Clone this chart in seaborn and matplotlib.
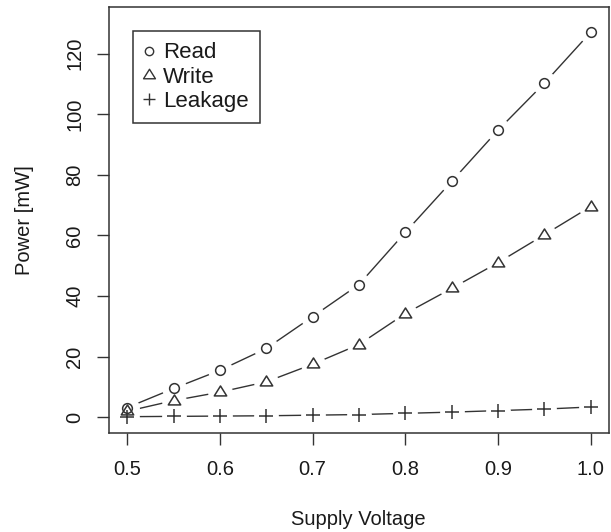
import matplotlib
matplotlib.use("Agg")
import matplotlib.pyplot as plt
from matplotlib.lines import Line2D
from matplotlib.path import Path
import seaborn as sns
import pandas as pd

voltage = [0.50, 0.55, 0.60, 0.65, 0.70, 0.75, 0.80, 0.85, 0.90, 0.95, 1.00]
read_mw = [3.2, 9.5, 15.5, 22.7, 33.2, 43.8, 61.0, 77.8, 94.7, 110.2, 127.0]
write_mw = [2.0, 5.5, 8.3, 11.7, 17.5, 24.0, 34.2, 42.5, 51.0, 60.2, 69.5]
leak_mw = [0.2, 0.3, 0.4, 0.5, 0.7, 0.9, 1.3, 1.7, 2.2, 2.7, 3.4]
series_names = ["Read", "Write", "Leakage"]
x_ticks = [0.5, 0.6, 0.7, 0.8, 0.9, 1.0]
y_ticks = [0, 20, 40, 60, 80, 100, 120]

sns.set_style("ticks")
plt.rcParams["font.family"] = ["Liberation Sans", "DejaVu Sans"]

fig = plt.figure(figsize=(6.11, 5.32), dpi=100)
ax = fig.add_axes([0.178, 0.186, 0.819, 0.800])

col = "#333333"
txt = "#1a1a1a"
fs = 14.5
tri = Path([(-1, -0.55), (1, -0.55), (0, 1.05), (-1, -0.55)],
           [Path.MOVETO, Path.LINETO, Path.LINETO, Path.CLOSEPOLY])
markers = ["o", tri, "+"]
msizes = [7.0, 9.4, 9.4]
series = [read_mw, write_mw, leak_mw]

frames = [pd.DataFrame({"V": voltage, "P": vals}) for vals in series]

# connecting lines
for df in frames:
    sns.lineplot(data=df, x="V", y="P", ax=ax, color=col, linewidth=1.0, zorder=2)
# white gaps around points (type = "b" look)
for df in frames:
    sns.lineplot(data=df, x="V", y="P", ax=ax, linestyle="", marker="o",
                 markersize=17, markerfacecolor="white", markeredgecolor="white",
                 color="white", zorder=3)
# open symbols
for df, mk, ms in zip(frames, markers, msizes):
    sns.lineplot(data=df, x="V", y="P", ax=ax, linestyle="", marker=mk,
                 markersize=ms, markerfacecolor="none", markeredgecolor=col,
                 markeredgewidth=1.1, color=col, zorder=4)

ax.set_xlim(0.48, 1.02)
ax.set_ylim(-5.2, 135.2)
ax.set_xticks(x_ticks)
ax.set_xticklabels([f"{t:.1f}" for t in x_ticks], fontsize=fs)
ax.set_yticks(y_ticks)
ax.set_yticklabels([str(t) for t in y_ticks], fontsize=fs, rotation=90, va="center")
ax.tick_params(axis="both", direction="out", length=8.6, width=1, color=col,
               labelcolor=txt)
ax.tick_params(axis="x", pad=10.7)
ax.tick_params(axis="y", pad=8.9)
for s in ax.spines.values():
    s.set_visible(True)
    s.set_color(col)
    s.set_linewidth(1.1)

ax.set_xlabel("Supply Voltage", fontsize=fs, color=txt)
ax.set_ylabel("Power [mW]", fontsize=fs, color=txt)
ax.xaxis.set_label_coords(0.498, -0.181)
ax.yaxis.set_label_coords(-0.149, 0.5)

handles = [Line2D([], [], linestyle="", marker=m, markersize=s,
                  markerfacecolor="none", markeredgecolor=col, markeredgewidth=1.0)
           for m, s in zip(markers, [6.0, 9.0, 9.0])]
leg = ax.legend(handles, series_names, loc="upper left",
                bbox_to_anchor=(0.049, 0.944), fontsize=16, frameon=True,
                fancybox=False, edgecolor=col, framealpha=1, handlelength=0.44,
                handletextpad=0.41, labelspacing=0.15, borderpad=0.5,
                borderaxespad=0)
leg.get_frame().set_linewidth(1.1)
for t in leg.get_texts():
    t.set_color(txt)

fig.savefig("out.png", dpi=100)
